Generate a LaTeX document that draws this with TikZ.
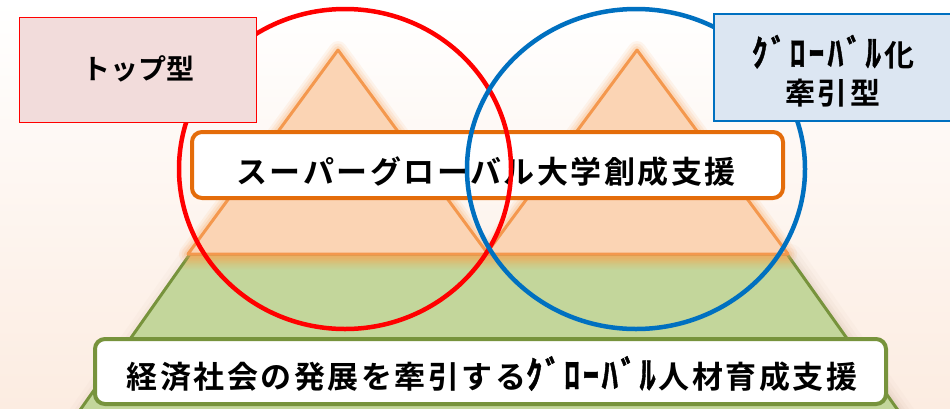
\documentclass[tikz,border=0pt]{standalone}
\usepackage{fontspec}
\usepackage{graphicx}
\newfontfamily\jp{Noto Sans CJK JP Bold}
\newfontfamily\jpsp[LetterSpace=8]{Noto Sans CJK JP Bold}
\newfontfamily\jpspb[LetterSpace=10]{Noto Sans CJK JP Bold}
\newcommand{\hwk}[1]{{\addfontfeatures{FakeBold=1.2}\scalebox{1.05}[1.22]{#1}}\kern3pt}
\definecolor{bgpeach}{RGB}{252,236,225}
\definecolor{greenfill}{RGB}{195,214,155}
\definecolor{greenline}{RGB}{119,147,60}
\definecolor{orangefill}{RGB}{251,212,180}
\definecolor{orangeline}{RGB}{244,152,78}
\definecolor{orangeglow}{RGB}{250,170,100}
\definecolor{bandorange}{RGB}{228,178,96}
\definecolor{orangebox}{RGB}{228,108,10}
\definecolor{redc}{RGB}{255,0,0}
\definecolor{bluec}{RGB}{0,112,192}
\definecolor{pinkfill}{RGB}{242,220,219}
\definecolor{bluefill}{RGB}{220,230,242}
\definecolor{shadowc}{RGB}{200,170,150}
\tikzset{
  textbox/.style={draw=#1, line width=4pt, fill=white, rounded corners=10pt, inner sep=0pt},
  ring/.style={draw=#1, line width=4.5pt},
  glowline/.style={draw=orangeglow, line join=round}
}
\begin{document}
\begin{tikzpicture}[x=1pt,y=-1pt]
\useasboundingbox (0,0) rectangle (950,408);
\clip (0,0) rectangle (950,408);
\shade[top color=white, bottom color=bgpeach] (0,0) rectangle (950,408);

% green trapezoid with soft shadow
\foreach \w/\o in {26/0.05,18/0.07,11/0.09,6/0.1}{
  \draw[draw=shadowc, line width=\w pt, opacity=\o, line join=round]
    (193,257) -- (790,257) -- (915,433) -- (69,433) -- cycle;
}
\coordinate (gtl) at (190,254);
\coordinate (gtr) at (787,254);
\coordinate (gbr) at (912,430);
\coordinate (gbl) at (66,430);
\fill[greenfill] (gtl) -- (gtr) -- (gbr) -- (gbl) -- cycle;
\begin{scope}
  \clip (gtl) -- (gtr) -- (gbr) -- (gbl) -- cycle;
  \shade[top color=bandorange, bottom color=greenfill] (100,254) rectangle (850,270);
\end{scope}
\draw[greenline, line width=3pt, line join=round] (gtl) -- (gtr) -- (gbr) -- (gbl) -- cycle;

% orange triangles with glow
\coordinate (la) at (338,50);
\coordinate (ll) at (188,254);
\coordinate (lr) at (488,254);
\coordinate (ra) at (637,50);
\coordinate (rl) at (486,254);
\coordinate (rr) at (788,254);
\foreach \w/\o in {18/0.10,13/0.14,8/0.2}{
  \draw[glowline, line width=\w pt, opacity=\o] (la) -- (lr) -- (ll) -- cycle;
  \draw[glowline, line width=\w pt, opacity=\o] (ra) -- (rr) -- (rl) -- cycle;
}
\fill[orangefill] (la) -- (lr) -- (ll) -- cycle;
\fill[orangefill] (ra) -- (rr) -- (rl) -- cycle;
\draw[orangeline, line width=3pt, line join=round] (la) -- (lr) -- (ll) -- cycle;
\draw[orangeline, line width=3pt, line join=round] (ra) -- (rr) -- (rl) -- cycle;

% orange text box
\node[textbox=orangebox, minimum width=591pt, minimum height=66pt] (sgbox) at (487.5,165) {};
\node[font=\jpsp\fontsize{31}{36}\selectfont, inner sep=0pt] (sgtext) at (486,172) {スーパーグローバル大学創成支援};

% green text box
\node[textbox=greenline, minimum width=791pt, minimum height=65pt] (gbox) at (490.5,371.5) {};
\node[font=\jpsp\fontsize{31}{36}\selectfont, inner sep=0pt] (gtext) at (492,374) {経済社会の発展を牽引する\hwk{ｸﾞﾛｰﾊﾞﾙ}人材育成支援};

% circles
\draw[ring=redc] (345,169) ellipse [x radius=166, y radius=160];
\draw[ring=bluec] (636,169) ellipse [x radius=169, y radius=160];

% label boxes
\node[draw=redc, line width=1.5pt, fill=pinkfill, inner sep=0pt, minimum width=237pt, minimum height=105pt] (topbox) at (138,70) {};
\node[font=\jp\fontsize{28}{32}\selectfont, inner sep=0pt] (toptext) at (138,69) {トップ型};
\node[draw=bluec, line width=2pt, fill=bluefill, inner sep=0pt, minimum width=256pt, minimum height=107pt] (glbox) at (842,67) {};
\node[font=\jpspb\fontsize{30}{38}\selectfont, inner sep=0pt, align=center] (gltext) at (833,71) {\hwk{ｸﾞﾛｰﾊﾞﾙ}化\\牽引型};
\end{tikzpicture}
\end{document}
